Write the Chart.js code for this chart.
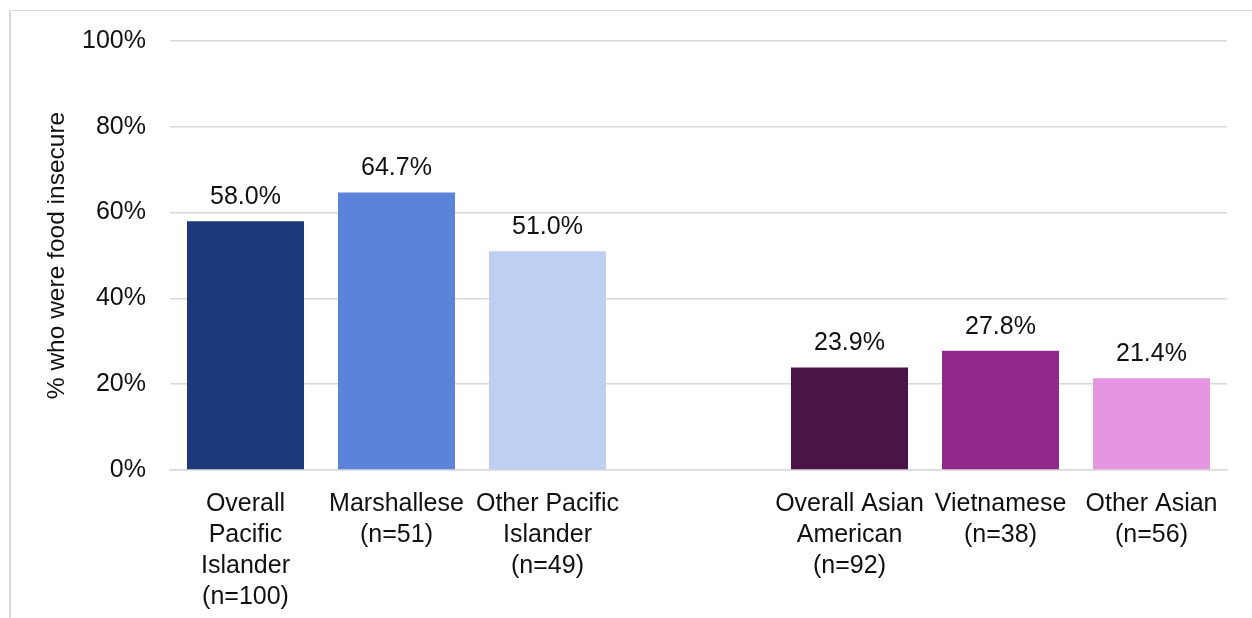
<!DOCTYPE html>
<html>
<head>
<meta charset="utf-8">
<title>Food insecurity by group</title>
<script src="https://cdn.jsdelivr.net/npm/chart.js@4/dist/chart.umd.min.js"></script>
<style>
    html, body { margin: 0; padding: 0; background: #fff; overflow: hidden; }
    #frame {
        position: absolute;
        left: 9px;
        top: 10px;
        width: 1300px;
        height: 700px;
        border-left: 2px solid #d9d9d9;
        border-top: 1.5px solid #d9d9d9;
    }
    #food-chart { position: absolute; left: 0; top: 0; }
</style>
</head>
<body>
<div id="frame"></div>
<canvas id="food-chart" width="1252" height="618"></canvas>
<script>
// Groups (empty slot separates Pacific Islander and Asian American)
const groupLabels = [
    ['Overall', 'Pacific', 'Islander', '(n=100)'],
    ['Marshallese', '(n=51)'],
    ['Other Pacific', 'Islander', '(n=49)'],
    '',
    ['Overall Asian', 'American', '(n=92)'],
    ['Vietnamese', '(n=38)'],
    ['Other Asian', '(n=56)']
];

// Percent who were food insecure
const insecurePct = [58.0, 64.7, 51.0, null, 23.9, 27.8, 21.4];

const barColors = ['#1c3a7b', '#5b83da', '#bfcff1', 'rgba(0,0,0,0)', '#4a1546', '#91288c', '#e497e0'];

const yTicks = [0, 20, 40, 60, 80, 100];

const labelFont = 'Liberation Sans, Arial, sans-serif';

// Writes the value above each bar
const valueLabels = {
    id: 'valueLabels',
    afterDatasetsDraw(chart) {
        const ctx = chart.ctx;
        const meta = chart.getDatasetMeta(0);
        ctx.save();
        ctx.font = '25px ' + labelFont;
        ctx.fillStyle = '#111';
        ctx.textAlign = 'center';
        ctx.textBaseline = 'alphabetic';
        meta.data.forEach((bar, i) => {
            const v = insecurePct[i];
            if (v === null) return;
            ctx.fillText(v.toFixed(1) + '%', bar.x, bar.y - 17);
        });
        ctx.restore();
    }
};

// Create food insecurity bar chart
function createFoodChart() {
    const canvas = document.getElementById('food-chart');
    const ctx = canvas.getContext('2d');

    return new Chart(ctx, {
        type: 'bar',
        data: {
            labels: groupLabels,
            datasets: [{
                data: insecurePct,
                backgroundColor: barColors,
                borderWidth: 0,
                categoryPercentage: 1,
                barPercentage: 0.775
            }]
        },
        options: {
            responsive: false,
            animation: false,
            layout: {
                padding: { top: 41, right: 25, bottom: 0, left: 0 }
            },
            plugins: {
                legend: { display: false },
                tooltip: { enabled: false }
            },
            scales: {
                x: {
                    grid: { display: false },
                    border: { display: true, color: '#d9d9d9', width: 1.5 },
                    ticks: {
                        color: '#111',
                        font: { family: labelFont, size: 25, lineHeight: 1.24 },
                        padding: 11,
                        maxRotation: 0,
                        autoSkip: false
                    },
                    afterFit(scale) {
                        scale.height = 148;
                    }
                },
                y: {
                    min: 0,
                    max: 100,
                    afterBuildTicks(scale) {
                        scale.ticks = yTicks.map(v => ({ value: v }));
                    },
                    grid: {
                        color: '#d9d9d9',
                        lineWidth: 1.5,
                        drawTicks: false
                    },
                    border: { display: false },
                    ticks: {
                        color: '#111',
                        font: { family: labelFont, size: 25 },
                        padding: 24,
                        callback: v => v + '%'
                    },
                    title: {
                        display: true,
                        text: '% who were food insecure',
                        color: '#111',
                        font: { family: 'Liberation Sans, Arial, sans-serif', size: 24.5 },
                        padding: { top: 43, bottom: 0 }
                    },
                    afterFit(scale) {
                        scale.width = 170;
                    }
                }
            }
        },
        plugins: [valueLabels]
    });
}

document.addEventListener('DOMContentLoaded', () => {
    window.foodChart = createFoodChart();
});
</script>
</body>
</html>
